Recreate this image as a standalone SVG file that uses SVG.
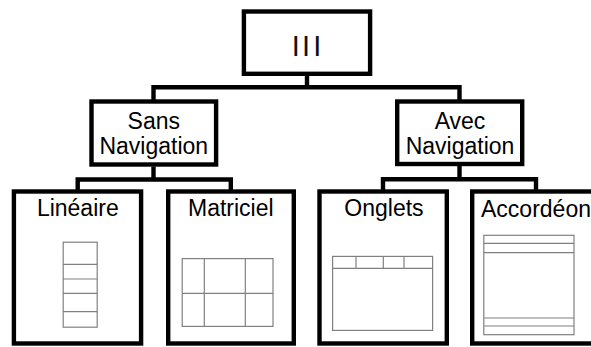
<svg xmlns="http://www.w3.org/2000/svg" width="591" height="347" viewBox="0 0 591 347">
  <style>
    .box { fill: #ffffff; stroke: #000000; stroke-width: 4.4; }
    .conn { fill: none; stroke: #000000; stroke-width: 4.4; stroke-linejoin: miter; stroke-linecap: butt; }
    .lbl { font-family: "Liberation Sans", Arial, sans-serif; font-size: 23px; fill: #000000; text-anchor: middle; }
    .root { font-family: "Liberation Sans", Arial, sans-serif; font-size: 29px; fill: #111111; text-anchor: middle; }
    .w { fill: #ffffff; stroke: #808080; stroke-width: 1.2; }
    .wl { fill: none; stroke: #808080; stroke-width: 1.2; }
  </style>
  <rect x="0" y="0" width="591" height="347" fill="#ffffff"/>

  <g id="connectors">
    <path class="conn" d="M307 76 V87.3"/>
    <path class="conn" d="M153.5 100 V87.3 H459.5 V100"/>
    <path class="conn" d="M153.5 166.5 V179.5"/>
    <path class="conn" d="M77.7 190 V179.5 H230.8 V190"/>
    <path class="conn" d="M459.5 166 V179.3"/>
    <path class="conn" d="M383 190 V179.3 H536 V190"/>
  </g>

  <g id="root">
    <rect class="box" x="243.9" y="11.5" width="126.2" height="62.3"/>
    <text class="root" x="295.7 306 317.3" y="56">III</text>
  </g>

  <g id="sans-navigation">
    <rect class="box" x="91.5" y="101.5" width="124.6" height="63"/>
    <text class="lbl" x="153.8" y="129.3">Sans</text>
    <text class="lbl" x="153.8" y="154">Navigation</text>
  </g>

  <g id="avec-navigation">
    <rect class="box" x="397.2" y="101.5" width="125" height="62.5"/>
    <text class="lbl" x="460" y="128.5">Avec</text>
    <text class="lbl" x="460" y="153.5">Navigation</text>
  </g>

  <g id="lineaire">
    <rect class="box" x="13.9" y="191.5" width="127.2" height="152"/>
    <text class="lbl" x="77.8" y="216">Linéaire</text>
    <rect class="w" x="63.2" y="242.2" width="34" height="85"/>
    <path class="wl" d="M63.2 264.3 H97.2 M63.2 279 H97.2 M63.2 293.3 H97.2 M63.2 311.7 H97.2"/>
  </g>

  <g id="matriciel">
    <rect class="box" x="168.2" y="191.5" width="125.6" height="152"/>
    <text class="lbl" x="230.8" y="216">Matriciel</text>
    <rect class="w" x="182.2" y="258.6" width="90.8" height="67.8"/>
    <path class="wl" d="M182.2 293.3 H273 M204.3 258.6 V326.4 M245.3 258.6 V326.4"/>
  </g>

  <g id="onglets">
    <rect class="box" x="319.5" y="191.5" width="127.3" height="152"/>
    <text class="lbl" x="384" y="216">Onglets</text>
    <rect class="w" x="332.6" y="256.4" width="100" height="74"/>
    <path class="wl" d="M332.6 268.3 H432.6 M356 256.4 V268.3 M383.3 256.4 V268.3 M404 256.4 V268.3"/>
  </g>

  <g id="accordeon">
    <rect class="box" x="472.2" y="191.5" width="127" height="152"/>
    <text class="lbl" x="536" y="216.5">Accordéon</text>
    <rect class="w" x="483.8" y="235.3" width="90.2" height="99.4"/>
    <path class="wl" d="M483.8 243.3 H574 M483.8 252.7 H574 M483.8 318 H574 M483.8 326 H574"/>
  </g>
</svg>
